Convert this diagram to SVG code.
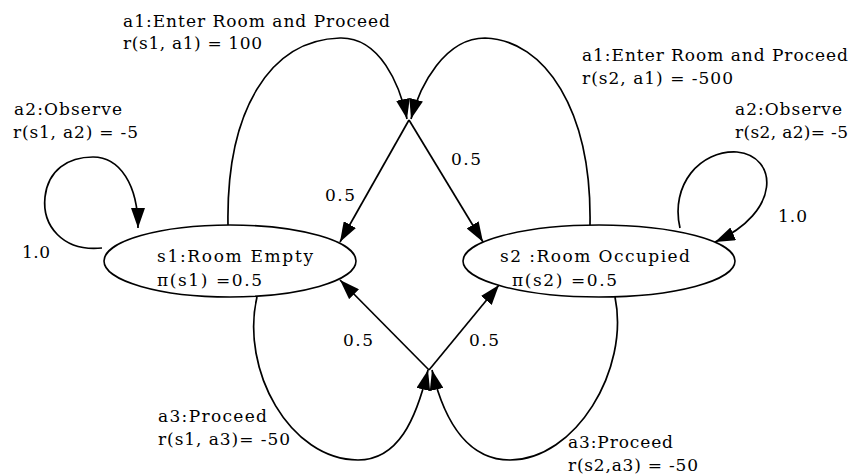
<svg xmlns="http://www.w3.org/2000/svg" width="851" height="476" viewBox="0 0 851 476">
<defs>
<marker id="arr" markerUnits="userSpaceOnUse" markerWidth="20" markerHeight="14" refX="20" refY="7" orient="auto" viewBox="0 0 20 14">
<path d="M0,0 L20,7 L0,14 z" fill="#000"/>
</marker>
<style>
.n{fill:#fff;stroke:#000;stroke-width:1.6}
.e{fill:none;stroke:#000;stroke-width:1.7;marker-end:url(#arr)}
text{font-family:"DejaVu Serif","Liberation Serif",serif;font-size:17px;fill:#000}
</style>
</defs>
<rect width="851" height="476" fill="#fff"/>
<g id="connectors">
<path id="e-s1-loop" class="e" d="M102,248 C62,252 42,225 45,197 C48,170 68,157 93,157 C120,157 138,185 138,228"/>
<path id="e-s2-loop" class="e" d="M680,228 C670,185 700,150 737,152 C778,156 782,212 715,242"/>
<path id="e-s1-a1" class="e" d="M228,225 C226,110 270,40 340,38 C380,37 400,85 407,119"/>
<path id="e-s2-a1" class="e" d="M590,225 C592,110 545,40 485,38 C445,38 420,85 411,119"/>
<path id="e-a1-s1" class="e" d="M409,120 L340,242"/>
<path id="e-a1-s2" class="e" d="M409,120 L483,242"/>
<path id="e-s1-a3" class="e" d="M257,297 C240,370 290,460 358,460 C398,460 416,420 428,370"/>
<path id="e-s2-a3" class="e" d="M615,297 C630,370 575,460 510,460 C470,460 445,425 432,370"/>
<path id="e-a3-s1" class="e" d="M429,370 L340,280"/>
<path id="e-a3-s2" class="e" d="M429,370 L499,285"/>
</g>
<g id="s1">
<ellipse class="n" cx="230" cy="261" rx="126" ry="36"/>
<text x="157" y="262" textLength="156" lengthAdjust="spacing">s1:Room Empty</text>
<text x="157" y="286" textLength="105" lengthAdjust="spacing">π(s1) =0.5</text>
</g>
<g id="s2">
<ellipse class="n" cx="599" cy="261" rx="136" ry="36"/>
<text x="500" y="262" textLength="190" lengthAdjust="spacing">s2 :Room Occupied</text>
<text x="512" y="286" textLength="105" lengthAdjust="spacing">π(s2) =0.5</text>
</g>
<g id="labels">
<text x="123" y="27" textLength="267" lengthAdjust="spacing">a1:Enter Room and Proceed</text>
<text x="123" y="49" textLength="139" lengthAdjust="spacing">r(s1, a1) = 100</text>
<text x="14" y="115" textLength="108" lengthAdjust="spacing">a2:Observe</text>
<text x="13" y="138" textLength="125" lengthAdjust="spacing">r(s1, a2) = -5</text>
<text x="582" y="61" textLength="266" lengthAdjust="spacing">a1:Enter Room and Proceed</text>
<text x="582" y="84" textLength="151" lengthAdjust="spacing">r(s2, a1) = -500</text>
<text x="735" y="115" textLength="107" lengthAdjust="spacing">a2:Observe</text>
<text x="735" y="138" textLength="113" lengthAdjust="spacing">r(s2, a2)= -5</text>
<text x="22" y="258" textLength="28" lengthAdjust="spacing">1.0</text>
<text x="778" y="222" textLength="29" lengthAdjust="spacing">1.0</text>
<text x="325" y="201" textLength="30" lengthAdjust="spacing">0.5</text>
<text x="451" y="165" textLength="30" lengthAdjust="spacing">0.5</text>
<text x="343" y="346" textLength="30" lengthAdjust="spacing">0.5</text>
<text x="469" y="346" textLength="30" lengthAdjust="spacing">0.5</text>
<text x="158" y="422" textLength="109" lengthAdjust="spacing">a3:Proceed</text>
<text x="158" y="445" textLength="132" lengthAdjust="spacing">r(s1, a3)= -50</text>
<text x="568" y="448" textLength="105" lengthAdjust="spacing">a3:Proceed</text>
<text x="568" y="471" textLength="130" lengthAdjust="spacing">r(s2,a3) = -50</text>
</g>
</svg>
